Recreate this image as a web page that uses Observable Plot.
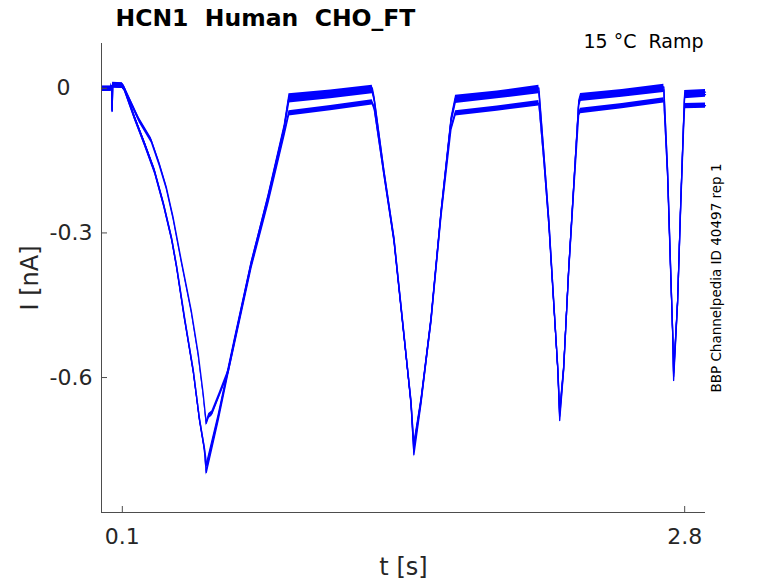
<!DOCTYPE html>
<html><head><meta charset="utf-8">
<script src="https://cdn.jsdelivr.net/npm/d3@7"></script>
<script src="https://cdn.jsdelivr.net/npm/@observablehq/plot@0.6"></script>
<style>body{margin:0;background:#fff} svg{white-space:pre}</style>
</head><body><div id="chart"></div>
<script>
const xDomain = [0, 2.9];
const yDomain = [-0.88, 0.093];
const xTicks = [0.1, 2.8];
const yTicks = [0, -0.3, -0.6];
const noiseHalf = 0.0055; // half-width of recording noise band (nA)

const sweep1 = [
[0.004,-0.001],[0.045,-0.001],[0.048,0.006],[0.051,-0.048],[0.054,0.007],[0.100,0.006],[0.109,0.000],
[0.157,-0.058],[0.205,-0.112],[0.253,-0.168],[0.296,-0.236],[0.335,-0.307],[0.359,-0.365],[0.397,-0.473],[0.440,-0.583],[0.469,-0.681],[0.493,-0.745],[0.503,-0.797],
[0.560,-0.689],[0.637,-0.529],[0.718,-0.367],[0.800,-0.226],[0.877,-0.081],[0.900,-0.017],
[1.100,-0.009],[1.300,0.001],
[1.309,-0.019],[1.356,-0.170],[1.404,-0.309],[1.452,-0.508],[1.486,-0.654],[1.500,-0.760],
[1.534,-0.654],[1.582,-0.481],[1.630,-0.259],[1.678,-0.066],[1.700,-0.020],
[1.900,-0.011],[2.100,0.001],
[2.124,-0.135],[2.148,-0.274],[2.172,-0.446],[2.191,-0.585],[2.200,-0.689],
[2.219,-0.585],[2.243,-0.378],[2.267,-0.205],[2.291,-0.031],[2.300,-0.016],
[2.500,-0.008],[2.700,0.003],
[2.718,-0.170],[2.733,-0.378],[2.743,-0.517],[2.747,-0.606],
[2.766,-0.446],[2.781,-0.239],[2.795,-0.066],[2.800,-0.010],[2.900,-0.008]
];
const sweep2 = [
[0.004,-0.001],[0.045,-0.001],[0.048,0.005],[0.051,-0.045],[0.054,0.006],[0.100,0.005],[0.110,0.000],
[0.160,-0.062],[0.208,-0.116],[0.256,-0.174],[0.299,-0.242],[0.338,-0.314],[0.362,-0.372],[0.400,-0.478],[0.442,-0.590],[0.471,-0.688],[0.495,-0.748],[0.505,-0.782],
[0.560,-0.682],[0.637,-0.526],[0.718,-0.366],[0.800,-0.228],[0.877,-0.085],[0.900,-0.025],
[1.100,-0.016],[1.300,-0.006],
[1.309,-0.022],[1.356,-0.172],[1.404,-0.311],[1.452,-0.510],[1.486,-0.650],[1.500,-0.748],
[1.534,-0.650],[1.582,-0.480],[1.630,-0.260],[1.678,-0.070],[1.700,-0.026],
[1.900,-0.016],[2.100,-0.006],
[2.124,-0.138],[2.148,-0.276],[2.172,-0.448],[2.191,-0.582],[2.200,-0.680],
[2.219,-0.582],[2.243,-0.378],[2.267,-0.207],[2.291,-0.036],[2.300,-0.022],
[2.500,-0.013],[2.700,-0.003],
[2.718,-0.172],[2.733,-0.380],[2.743,-0.515],[2.747,-0.598],
[2.766,-0.444],[2.781,-0.240],[2.795,-0.070],[2.800,-0.016],[2.900,-0.013]
];
const sweep3 = [
[0.004,-0.001],[0.045,-0.001],[0.048,0.005],[0.051,-0.046],[0.054,0.006],[0.100,0.005],[0.110,0.000],
[0.181,-0.066],[0.239,-0.108],[0.277,-0.156],[0.311,-0.205],[0.344,-0.268],[0.383,-0.357],[0.431,-0.461],[0.464,-0.550],[0.488,-0.633],[0.503,-0.695],
[0.515,-0.680],[0.530,-0.675],[0.565,-0.637],[0.608,-0.589],
[0.637,-0.532],[0.718,-0.372],[0.800,-0.236],[0.877,-0.096],[0.900,-0.052],
[1.100,-0.041],[1.300,-0.029],
[1.309,-0.040],[1.356,-0.178],[1.404,-0.315],[1.452,-0.512],[1.486,-0.648],[1.500,-0.740],
[1.534,-0.648],[1.582,-0.484],[1.630,-0.266],[1.678,-0.085],[1.700,-0.052],
[1.900,-0.042],[2.100,-0.031],
[2.124,-0.150],[2.148,-0.284],[2.172,-0.452],[2.191,-0.580],[2.200,-0.672],
[2.219,-0.580],[2.243,-0.382],[2.267,-0.214],[2.291,-0.055],[2.300,-0.047],
[2.500,-0.037],[2.700,-0.025],
[2.718,-0.182],[2.733,-0.386],[2.743,-0.512],[2.747,-0.590],
[2.766,-0.444],[2.781,-0.246],[2.795,-0.082],[2.800,-0.037],[2.900,-0.036]
];

const titleText = "HCN1  Human  CHO_FT";
const condText = "15 °C  Ramp";
const sideText = "BBP Channelpedia ID 40497 rep 1";
const xLabel = "t [s]";
const yLabel = "I [nA]";

const rows = [];
[sweep1, sweep2, sweep3].forEach((s, k) => s.forEach(([t, i]) => rows.push({sweep: k, t, i})));

const blue = "#0000ff";
const axisColor = "#4d4d4d";
const tickText = "#262626";
const font = "DejaVu Sans";
const fmt = d => d === 0 ? "0" : d.toFixed(1);

const chart = Plot.plot({
  width: 778, height: 583,
  marginLeft: 101, marginRight: 73, marginTop: 43, marginBottom: 71,
  style: {fontFamily: font, background: "#fff"},
  x: {domain: xDomain, axis: null},
  y: {domain: yDomain, axis: null},
  marks: [
    Plot.areaY(rows, {x: "t", y1: d => d.i - noiseHalf, y2: d => d.i + noiseHalf, z: "sweep", fill: blue}),
    Plot.line(rows, {x: "t", y: "i", z: "sweep", stroke: blue, strokeWidth: 1.3}),
    Plot.ruleX([xDomain[0]], {stroke: axisColor, strokeWidth: 1}),
    Plot.ruleY([yDomain[0]], {stroke: axisColor, strokeWidth: 1}),
    Plot.tickY(yTicks, {y: d => d, insetRight: 598, stroke: axisColor}),
    Plot.tickX(xTicks, {x: d => d, insetTop: 463, stroke: axisColor}),
    Plot.text(yTicks.filter(d => d !== 0), {y: d => d, text: fmt, frameAnchor: "left", textAnchor: "end", dx: -9, fontSize: 22, fill: tickText}),
    Plot.text(yTicks.filter(d => d === 0), {y: d => d, text: fmt, frameAnchor: "left", textAnchor: "end", dx: -31, fontSize: 22, fill: tickText}),
    Plot.text(xTicks, {x: d => d, text: d => d.toFixed(1), frameAnchor: "bottom", lineAnchor: "middle", dy: 24, fontSize: 22, fill: tickText}),
    Plot.text([xLabel], {text: d => d, frameAnchor: "bottom", textAnchor: "middle", lineAnchor: "middle", dy: 55, fontSize: 24, fill: tickText}),
    Plot.text([yLabel], {text: d => d, frameAnchor: "left", textAnchor: "middle", lineAnchor: "middle", dx: -71, rotate: -90, fontSize: 24, fill: tickText}),
    Plot.text([titleText], {text: d => d, frameAnchor: "top-left", textAnchor: "start", lineAnchor: "middle", dx: 14, dy: -25, fontSize: 23.5, fontWeight: "bold", fill: "#000"}),
    Plot.text([condText], {text: d => d, frameAnchor: "top-right", textAnchor: "end", lineAnchor: "middle", dx: -2, dy: -2, fontSize: 19, fill: "#000"}),
    Plot.text([sideText], {text: d => d, frameAnchor: "right", textAnchor: "middle", lineAnchor: "middle", dx: 11, rotate: -90, fontSize: 13.5, fill: "#000"})
  ]
});
document.getElementById("chart").appendChild(chart);
</script>
</body></html>
